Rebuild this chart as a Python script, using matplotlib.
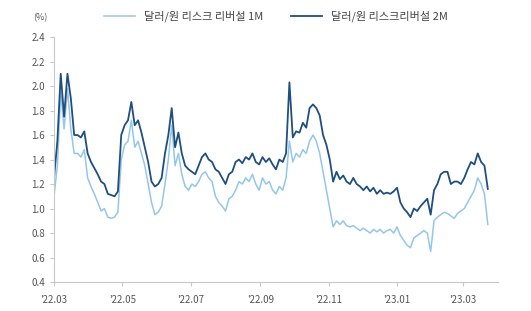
import pandas as pd
import numpy as np
import matplotlib
matplotlib.use("Agg")
import matplotlib.pyplot as plt

plt.rcParams['font.family'] = ['Noto Sans CJK KR', 'DejaVu Sans']

# values, one every 3 days from 2022-03-01
rr_2m = [1.25, 1.55, 2.10, 1.75, 2.10, 1.90, 1.60, 1.60, 1.58, 1.63,
         1.45, 1.38, 1.33, 1.28, 1.22, 1.20, 1.12, 1.11, 1.10, 1.14,
         1.60, 1.68, 1.72, 1.87, 1.68, 1.72, 1.62, 1.50, 1.38, 1.22,
         1.18, 1.20, 1.25, 1.45, 1.60, 1.82, 1.50, 1.62, 1.45, 1.35,
         1.32, 1.30, 1.28, 1.35, 1.42, 1.45, 1.40, 1.38, 1.32, 1.30,
         1.25, 1.20, 1.28, 1.30, 1.38, 1.40, 1.37, 1.42, 1.40, 1.45,
         1.38, 1.36, 1.42, 1.38, 1.41, 1.36, 1.32, 1.40, 1.38, 1.45,
         2.03, 1.58, 1.63, 1.62, 1.70, 1.66, 1.82, 1.85, 1.82, 1.76,
         1.60, 1.52, 1.40, 1.22, 1.30, 1.24, 1.27, 1.22, 1.20, 1.25,
         1.20, 1.18, 1.15, 1.18, 1.14, 1.17, 1.12, 1.15, 1.12, 1.13,
         1.12, 1.14, 1.17, 1.05, 1.00, 0.97, 0.93, 1.00, 0.98, 1.02,
         1.05, 1.08, 0.95, 1.15, 1.20, 1.28, 1.30, 1.30, 1.20, 1.22,
         1.22, 1.20, 1.25, 1.32, 1.38, 1.36, 1.45, 1.38, 1.35, 1.16]

rr_1m = [1.10, 1.35, 1.95, 1.65, 1.98, 1.65, 1.45, 1.45, 1.42, 1.48,
         1.25, 1.18, 1.12, 1.05, 0.98, 1.00, 0.93, 0.92, 0.93, 0.97,
         1.40, 1.52, 1.55, 1.72, 1.50, 1.55, 1.45, 1.35, 1.20, 1.05,
         0.95, 0.97, 1.02, 1.20, 1.40, 1.68, 1.35, 1.45, 1.28, 1.18,
         1.15, 1.20, 1.18, 1.22, 1.28, 1.30, 1.25, 1.22, 1.10, 1.05,
         1.02, 0.98, 1.08, 1.10, 1.15, 1.22, 1.20, 1.25, 1.22, 1.28,
         1.20, 1.15, 1.25, 1.20, 1.22, 1.15, 1.12, 1.18, 1.15, 1.25,
         1.55, 1.38, 1.45, 1.42, 1.48, 1.45, 1.55, 1.60, 1.55, 1.45,
         1.30, 1.15, 1.00, 0.85, 0.90, 0.87, 0.90, 0.86, 0.85, 0.86,
         0.84, 0.82, 0.84, 0.82, 0.80, 0.83, 0.81, 0.83, 0.80, 0.82,
         0.83, 0.80, 0.85, 0.78, 0.74, 0.70, 0.68, 0.76, 0.78, 0.80,
         0.82, 0.80, 0.65, 0.90, 0.93, 0.95, 0.97, 0.96, 0.94, 0.92,
         0.96, 0.98, 1.00, 1.05, 1.10, 1.15, 1.25, 1.20, 1.12, 0.87]

dates = pd.date_range('2022-03-01', periods=len(rr_2m), freq='3D')

tick_dates = ['2022-03-01', '2022-05-01', '2022-07-01', '2022-09-01',
              '2022-11-01', '2023-01-01', '2023-03-01']
tick_labels = ["'22.03", "'22.05", "'22.07", "'22.09", "'22.11", "'23.01", "'23.03"]
y_ticks = [0.4, 0.6, 0.8, 1.0, 1.2, 1.4, 1.6, 1.8, 2.0, 2.2, 2.4]

fig = plt.figure(figsize=(5.31, 3.11), dpi=100)
ax = fig.add_axes([0.1017, 0.093, 0.836, 0.788])

ax.plot(dates, rr_1m, color='#94c6ec', lw=1.1, label='달러/원 리스크 리버설 1M')
ax.plot(dates, rr_2m, color='#1f4f7c', lw=1.3, label='달러/원 리스크리버설 2M')

ax.set_ylim(0.4, 2.4)
ax.set_yticks(y_ticks)
ax.set_yticklabels(['%.1f' % v for v in y_ticks])
ax.set_xlim(pd.Timestamp('2022-03-01'), pd.Timestamp('2023-04-01'))
ax.set_xticks(pd.to_datetime(tick_dates))
ax.set_xticklabels(tick_labels)

for s in ['top', 'right']:
    ax.spines[s].set_visible(False)
for s in ['left', 'bottom']:
    ax.spines[s].set_color('#c8c8c8')
    ax.spines[s].set_linewidth(0.8)
ax.tick_params(axis='both', colors='#c8c8c8', labelcolor='#555555', labelsize=7, length=3, width=0.8)
ax.tick_params(axis='x', pad=6)

fig.text(0.062, 0.935, '(%)', fontsize=6.5, color='#555555')
ax.legend(loc='lower center', bbox_to_anchor=(0.5, 1.02), ncol=2, frameon=False,
          fontsize=8, handlelength=2.8, columnspacing=2.5, labelcolor='#444444')

fig.savefig('out.png', dpi=100)
